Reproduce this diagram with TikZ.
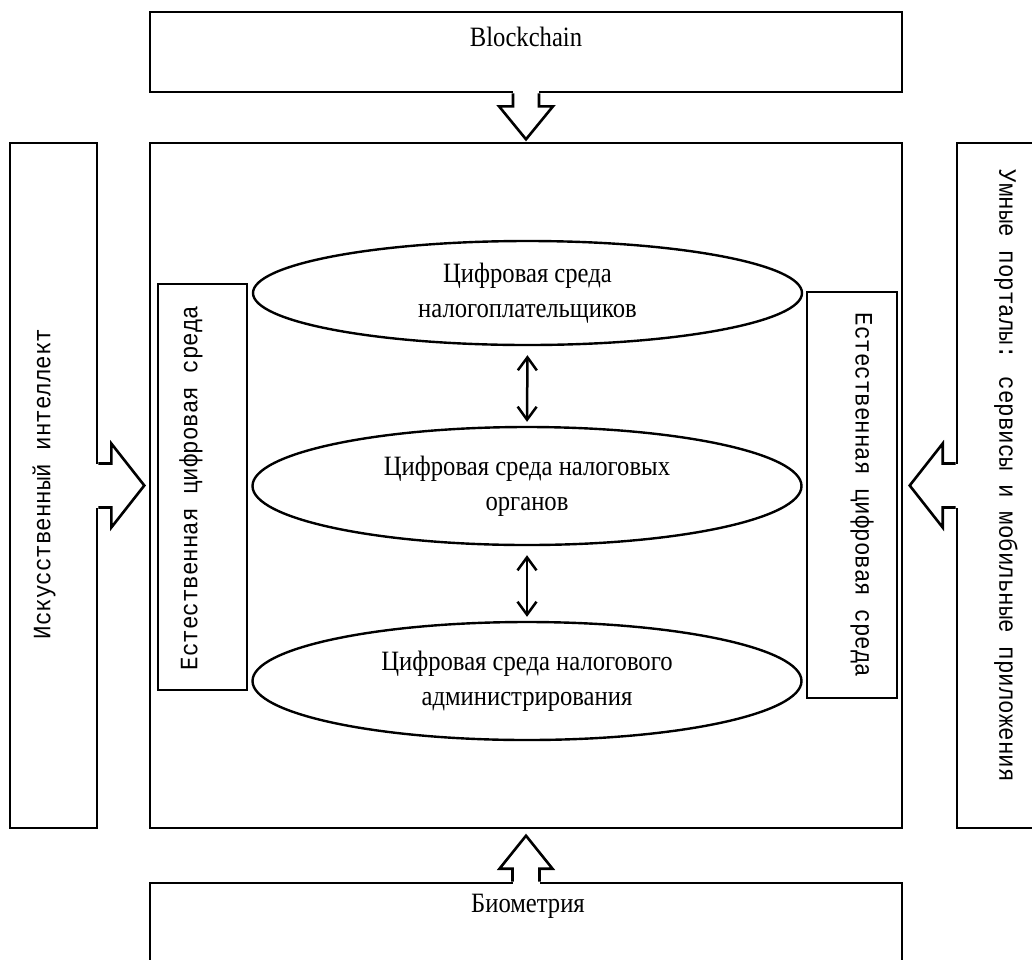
\documentclass[tikz,border=0pt]{standalone}
\usepackage{fontspec}
\setmainfont{Liberation Serif}
\newfontfamily\serfam[FakeStretch=0.88]{Liberation Serif}
\newfontfamily\monofam[FakeStretch=0.9]{Liberation Mono}
\usetikzlibrary{shapes.geometric,arrows.meta}

\tikzset{
        box/.style={draw, line width=2.6pt, rectangle, inner sep=0pt},
        env/.style={draw, line width=2.4pt, ellipse, inner sep=0pt, minimum width=549pt, align=center, font=\serfam\fontsize{28}{35}\selectfont},
        serif/.style={font=\serfam\fontsize{28}{35}\selectfont},
        side/.style={font=\monofam\fontsize{25}{27}\selectfont, inner sep=0pt},
        link/.style={{Straight Barb[length=13pt,width=19pt]}-{Straight Barb[length=13pt,width=19pt]}, line width=2.5pt, shorten <=9pt, shorten >=4pt},
        pics/blockarrow/.style 2 args={code={
                \fill[white] (-2,-#1) rectangle (13,#1);
                \draw[line width=2.6pt] (0,-#1) -- (13,-#1) -- (13,-#2) -- (46,0) -- (13,#2) -- (13,#1) -- (0,#1);
        }}
}

\begin{document}
\begin{tikzpicture}[x=1pt, y=-1pt]
        \useasboundingbox (0,0) rectangle (1032,959);
        \clip (0,0) rectangle (1032,959);

        \node[box, minimum width=752pt, minimum height=80pt] (chain) at (526,52) {};
        \node[serif, anchor=base] (chaintxt) at (526,46) {Blockchain};
        \node[box, minimum width=752pt, minimum height=685pt] (main) at (526,485.5) {};
        \node[box, minimum width=87pt, minimum height=685pt] (ai) at (53.5,485.5) {};
        \node[side, rotate=90] (aitxt) at (44,484) {Искусственный интеллект};
        \node[box, minimum width=88pt, minimum height=685pt] (smart) at (1001,485.5) {};
        \node[side, rotate=-90] (smarttxt) at (1006,476) {Умные порталы: сервисы и мобильные приложения};
        \node[box, minimum width=752pt, minimum height=100pt] (bio) at (526,933) {};
        \node[serif, anchor=base] (biotxt) at (528,912) {Биометрия};

        \node[box, minimum width=89pt, minimum height=406pt] (envl) at (202.5,487) {};
        \node[side, rotate=90] (envltxt) at (191,488) {Естественная цифровая среда};
        \node[box, minimum width=90pt, minimum height=406pt] (envr) at (852,495) {};
        \node[side, rotate=-90] (envrtxt) at (862,495) {Естественная цифровая среда};

        \node[env, minimum height=104pt] (tp) at (527.5,293) {Цифровая среда\\налогоплательщиков};
        \node[env, minimum height=118pt] (org) at (527,486) {Цифровая среда налоговых\\органов};
        \node[env, minimum height=118pt] (adm) at (527,681) {Цифровая среда налогового\\администрирования};

        \draw[link] (tp.south) -- (org.north);
        \draw[link] (org.south) -- (adm.north);

        \pic[rotate=-90] at (chain.south) {blockarrow={13}{27}};
        \pic at (ai.east) {blockarrow={22}{42}};
        \pic[rotate=180] at (smart.west) {blockarrow={22}{42}};
        \pic[rotate=90] at (bio.north) {blockarrow={13.5}{26.5}};
\end{tikzpicture}
\end{document}
